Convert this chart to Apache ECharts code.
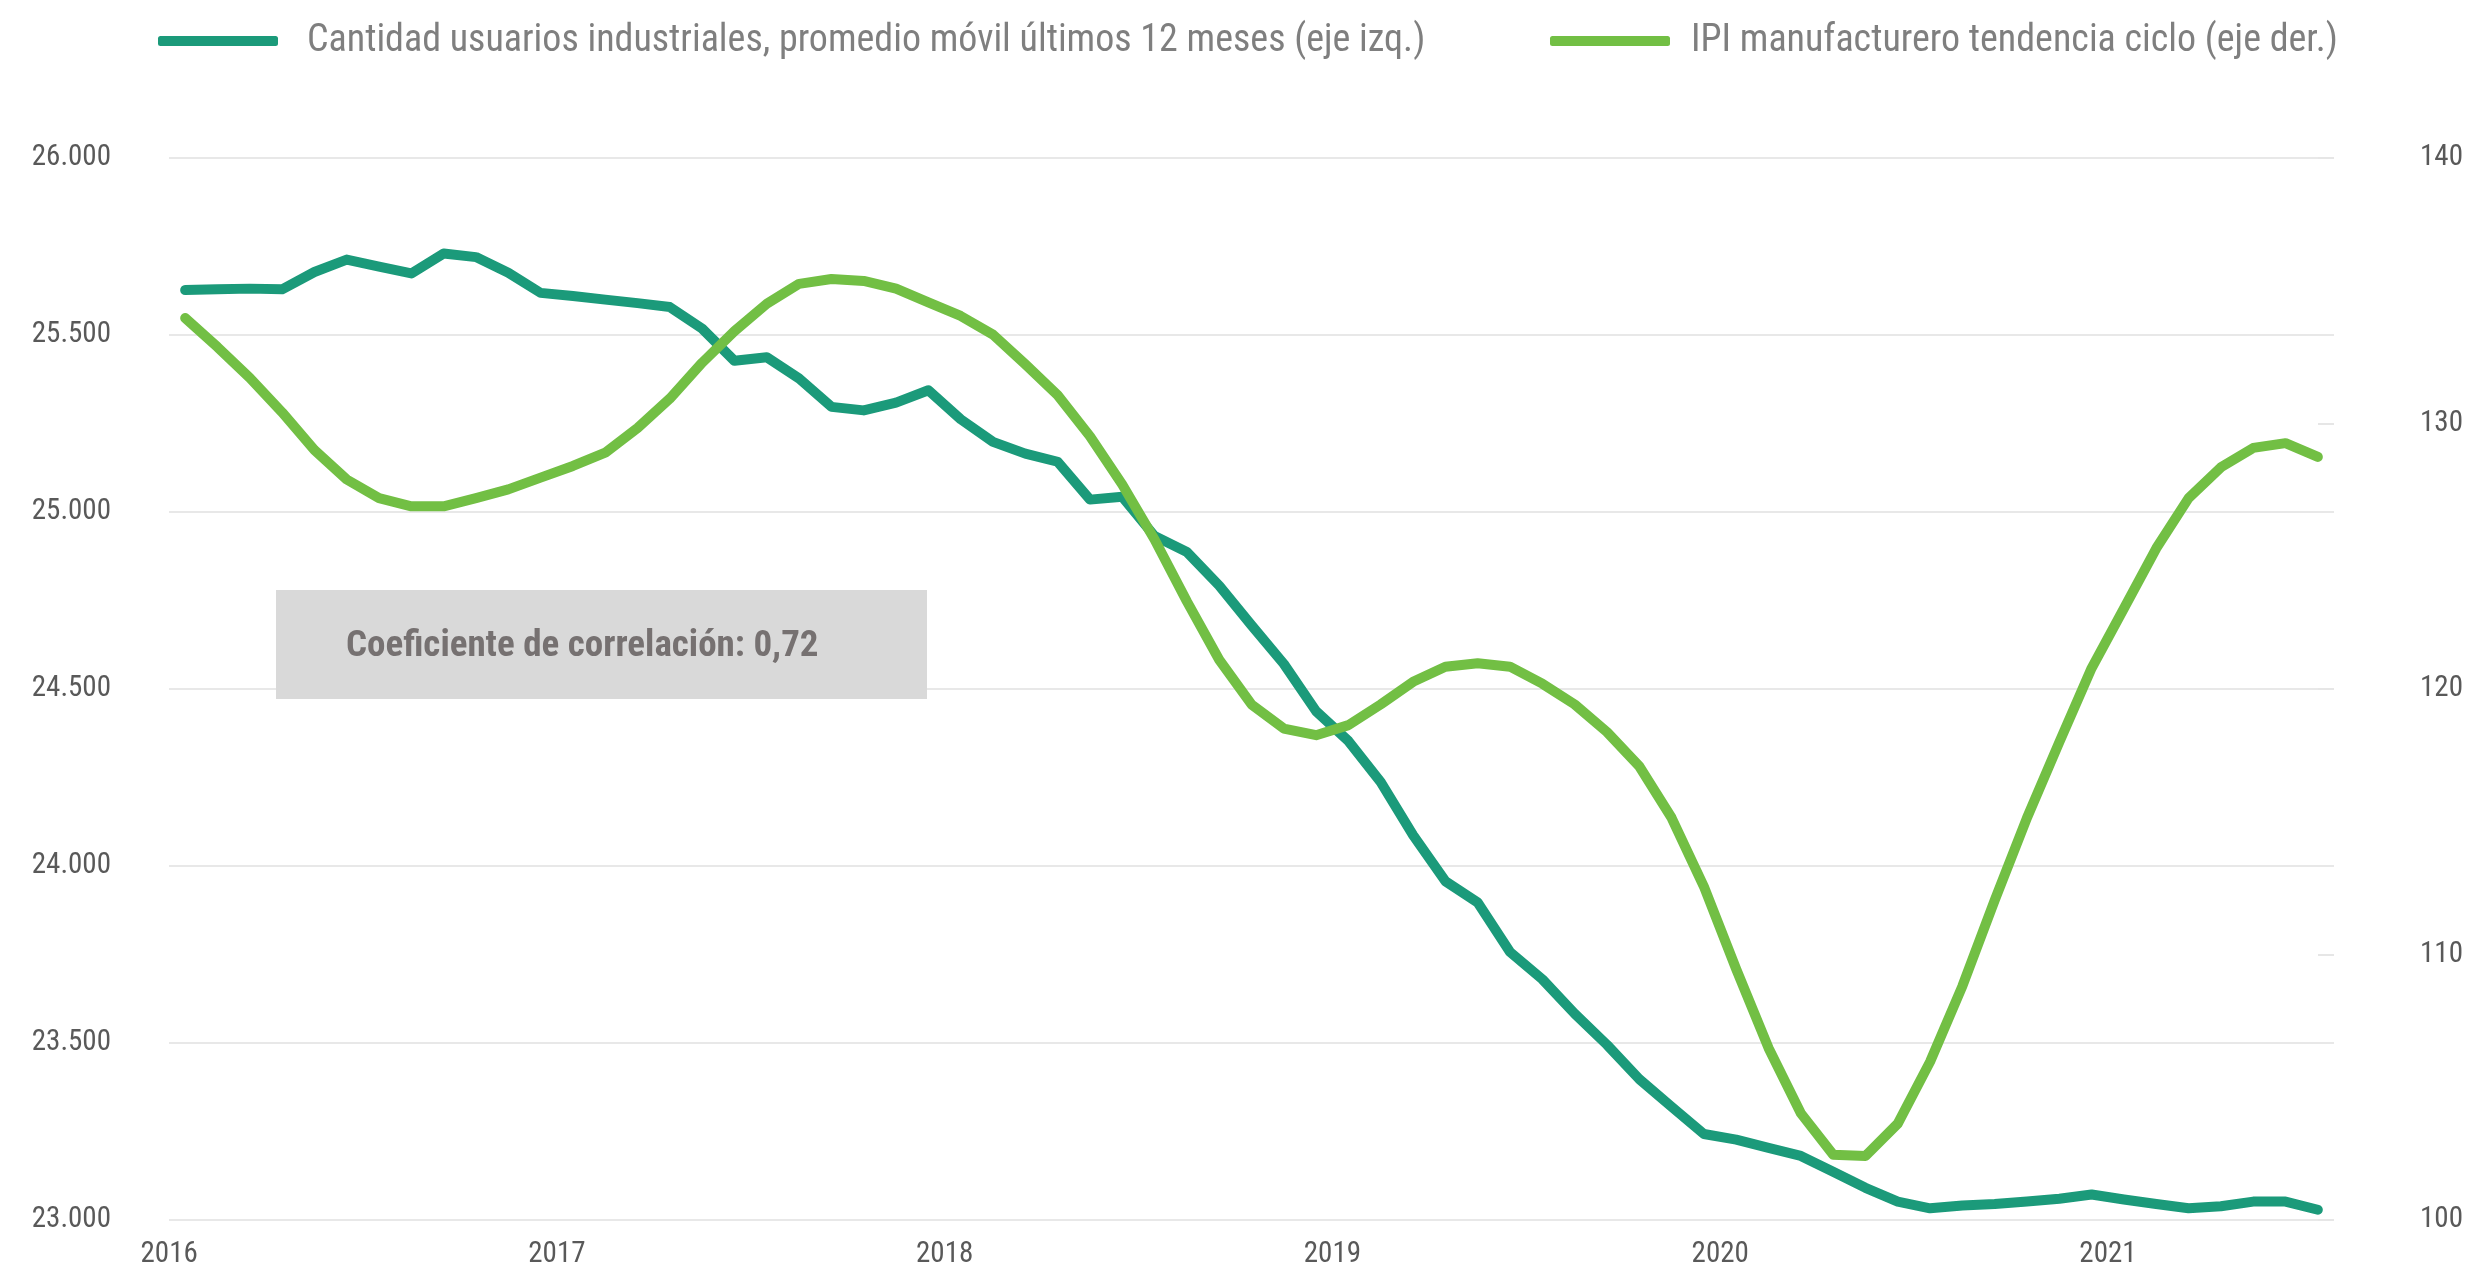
<!DOCTYPE html>
<html>
<head>
<meta charset="utf-8">
<script src="https://cdn.jsdelivr.net/npm/echarts@6/dist/echarts.min.js"></script>
<style>
  html, body { margin: 0; padding: 0; background: #fff; }
  #chart { width: 2471px; height: 1268px; }
</style>
</head>
<body>
<div id="chart"></div>
<script>
// meses ene-2016 .. jul-2021
const meses = []
for (let y = 2016; y <= 2021; y++) {
  for (let m = 1; m <= 12; m++) {
    if (y === 2021 && m > 7) break
    meses.push(y + '-' + String(m).padStart(2, '0'))
  }
}
const nombreUsuarios = 'Cantidad usuarios industriales, promedio móvil últimos 12 meses (eje izq.)'
const nombreIpi = 'IPI manufacturero tendencia ciclo (eje der.)'
// eje izquierdo
const usuarios = [
  25627, 25629, 25631, 25629, 25678, 25713, 25693, 25674, 25730, 25720, 25676, 25619,
  25610, 25600, 25590, 25579, 25518, 25427, 25437, 25377, 25297, 25287, 25309, 25344,
  25262, 25198, 25165, 25142, 25035, 25043, 24932, 24887, 24792, 24680, 24571, 24437,
  24353, 24237, 24087, 23957, 23897, 23757, 23680, 23583, 23495, 23398, 23320, 23243,
  23227, 23204, 23181, 23136, 23091, 23052, 23033, 23041, 23045, 23052, 23060, 23072,
  23058, 23045, 23033, 23039, 23052, 23052, 23029
]
// eje derecho
const ipi = [
  133.97, 132.88, 131.72, 130.42, 129.0, 127.89, 127.19, 126.88, 126.88, 127.19, 127.52, 127.96,
  128.40, 128.9, 129.83, 130.94, 132.29, 133.48, 134.51, 135.26, 135.44, 135.37, 135.08, 134.56,
  134.05, 133.35, 132.23, 131.07, 129.52, 127.70, 125.63, 123.30, 121.10, 119.42, 118.51, 118.26,
  118.64, 119.42, 120.27, 120.84, 120.97, 120.84, 120.20, 119.42, 118.38, 117.09, 115.15, 112.56,
  109.45, 106.48, 104.02, 102.46, 102.41, 103.63, 105.96, 108.81, 112.04, 115.15, 118.0, 120.79,
  123.04, 125.30, 127.19, 128.35, 129.08, 129.26, 128.74
]
const textoCorrelacion = 'Coeficiente de correlación: 0,72'

const fuente = "'Roboto Condensed', 'Liberation Sans Narrow', 'DejaVu Sans Condensed', Roboto, sans-serif"
const teal = '#1b9a7a'
const verde = '#72bf44'

const chart = echarts.init(document.getElementById('chart'))
const option = {
  animation: false,
  backgroundColor: '#fff',
  textStyle: { fontFamily: fuente },
  grid: { left: 169, right: 137, top: 158, bottom: 48, outerBoundsMode: 'none' },
  legend: [
    {
      data: [nombreUsuarios],
      left: 153, top: 17,
      icon: 'roundRect', itemWidth: 120, itemHeight: 10,
      textStyle: { color: '#7f7f7f', fontSize: 38, fontFamily: fuente, padding: [0, 0, 0, 24] }
    },
    {
      data: [nombreIpi],
      left: 1545, top: 17,
      icon: 'roundRect', itemWidth: 120, itemHeight: 10,
      textStyle: { color: '#7f7f7f', fontSize: 38, fontFamily: fuente, padding: [0, 0, 0, 16] }
    }
  ],
  xAxis: {
    type: 'category',
    data: meses,
    boundaryGap: true,
    axisLine: { show: false },
    axisTick: { show: false },
    axisLabel: {
      interval: (idx) => idx % 12 === 0,
      formatter: (v) => v.slice(0, 4),
      color: '#595959', fontSize: 29, fontFamily: fuente,
      margin: 20,
      padding: [0, 32, 0, 0]
    },
    splitLine: { show: false }
  },
  yAxis: [
    {
      type: 'value', min: 23000, max: 26000, interval: 500,
      axisLine: { show: false }, axisTick: { show: false },
      axisLabel: {
        margin: 58, color: '#595959', fontSize: 29, fontFamily: fuente,
        formatter: (v) => v.toLocaleString('de-DE', { minimumFractionDigits: 0 })
      },
      splitLine: { lineStyle: { color: '#e8e8e8', width: 2 } }
    },
    {
      type: 'value', min: 100, max: 140, interval: 10, position: 'right',
      axisLine: { show: false },
      axisTick: { show: true, inside: true, length: 16, lineStyle: { color: '#e6e6e6', width: 2 } },
      axisLabel: { margin: 86, color: '#595959', fontSize: 29, fontFamily: fuente },
      splitLine: { show: false }
    }
  ],
  series: [
    {
      name: nombreUsuarios, type: 'line', yAxisIndex: 0,
      data: usuarios, symbol: 'none',
      itemStyle: { color: teal },
      lineStyle: { color: teal, width: 10, cap: 'round', join: 'round' }
    },
    {
      name: nombreIpi, type: 'line', yAxisIndex: 1,
      data: ipi, symbol: 'none',
      itemStyle: { color: verde },
      lineStyle: { color: verde, width: 10, cap: 'round', join: 'round' }
    }
  ],
  graphic: [
    {
      type: 'rect', left: 276, top: 590, z: 10,
      shape: { width: 651, height: 109 },
      style: { fill: '#d9d9d9' }
    },
    {
      type: 'text', left: 346, top: 628, z: 11,
      style: {
        text: textoCorrelacion, fill: '#767171',
        font: "bold 37px " + fuente
      }
    }
  ]
}
chart.setOption(option)
</script>
</body>
</html>
